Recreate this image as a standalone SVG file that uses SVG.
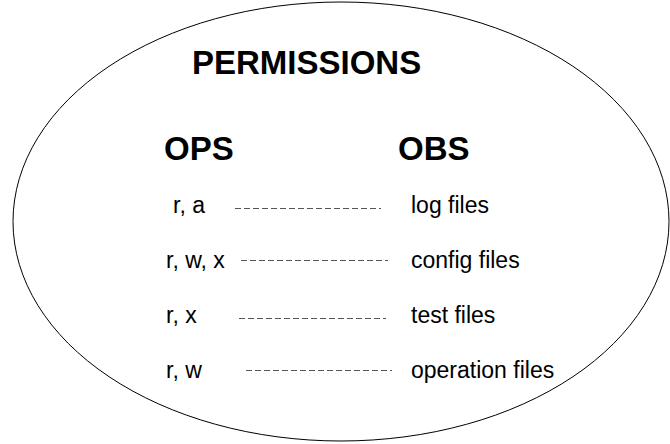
<svg xmlns="http://www.w3.org/2000/svg" width="670" height="444" viewBox="0 0 670 444">
<style>
.bg{fill:#fff}
.outline{fill:none;stroke:#000;stroke-width:1}
.h{font-family:"Liberation Sans",Arial,sans-serif;font-weight:bold;font-size:33px;fill:#000}
.t{font-family:"Liberation Sans",Arial,sans-serif;font-size:23px;fill:#000}
.dash{stroke:#555;stroke-width:1;stroke-dasharray:6 3;fill:none}
</style>
<rect class="bg" x="0" y="0" width="670" height="444"/>
<g id="permissions-boundary">
<ellipse class="outline" cx="341" cy="221.5" rx="328" ry="219.5"/>
<text class="h" x="192" y="74">PERMISSIONS</text>
</g>
<g id="ops-header"><text class="h" x="164" y="160">OPS</text></g>
<g id="obs-header"><text class="h" x="398" y="160">OBS</text></g>
<g id="perm-ra"><text class="t" x="173" y="213">r, a</text></g>
<g id="perm-rwx"><text class="t" x="166" y="268">r, w, x</text></g>
<g id="perm-rx"><text class="t" x="166" y="323">r, x</text></g>
<g id="perm-rw"><text class="t" x="166" y="378">r, w</text></g>
<g id="obj-log"><text class="t" x="411" y="213">log files</text></g>
<g id="obj-config"><text class="t" x="411" y="268">config files</text></g>
<g id="obj-test"><text class="t" x="411" y="323">test files</text></g>
<g id="obj-operation"><text class="t" x="411" y="378">operation files</text></g>
<g id="connectors">
<line class="dash" x1="235" y1="208.5" x2="381" y2="208.5"/>
<line class="dash" x1="241" y1="260.5" x2="388" y2="260.5"/>
<line class="dash" x1="239" y1="318.5" x2="386" y2="318.5"/>
<line class="dash" x1="246" y1="370.5" x2="392" y2="370.5"/>
</g>
</svg>
